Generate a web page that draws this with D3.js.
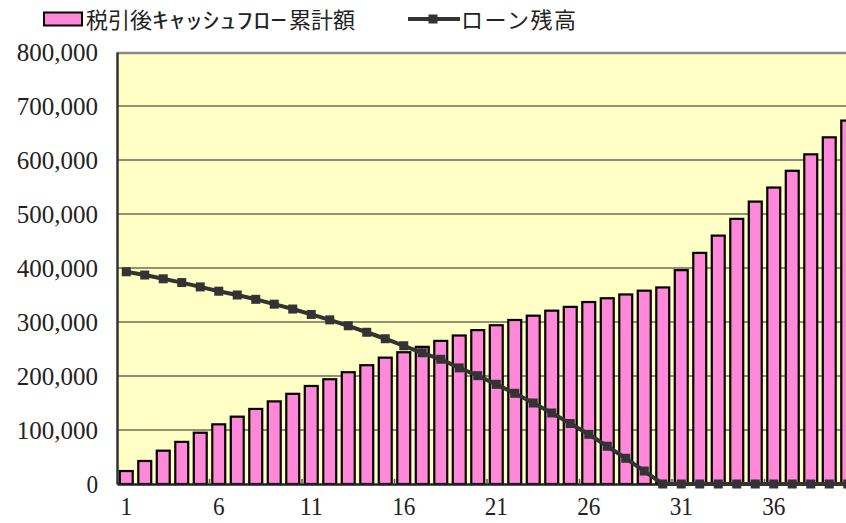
<!DOCTYPE html>
<html>
<head>
<meta charset="utf-8">
<script src="https://cdn.jsdelivr.net/npm/d3@7"></script>
<style>
  body { margin: 0; background: #fff; }
  svg { display: block; }
</style>
</head>
<body>
<script>
// categories (year 1..40)
var years = d3.range(1, 41);

// 税引後キャッシュフロー累計額 (bars)
var cashflow = [24000, 42600, 61700, 78000, 95000, 110500, 124700, 139000, 153000, 167000,
    181500, 194000, 207000, 220000, 234000, 244000, 254000, 265000, 275000, 285000,
    294000, 303700, 311700, 321000, 328000, 337000, 344000, 351000, 358000, 364000,
    396000, 428000, 460000, 491000, 523000, 549000, 580000, 610500, 642000, 673000];

// ローン残高 (line)
var loan = [393000, 387000, 380000, 373000, 365000, 357000, 350000, 342000, 333000, 324000,
    314000, 304000, 293000, 281000, 269000, 256000, 243000, 231000, 215000, 200600,
    184600, 168000, 150000, 131500, 112000, 92000, 70000, 47600, 24000, 0,
    0, 0, 0, 0, 0, 0, 0, 0, 0, 0];

var yTicks = [0, 100000, 200000, 300000, 400000, 500000, 600000, 700000, 800000];
var xLabels = [1, 6, 11, 16, 21, 26, 31, 36];

var W = 846, H = 523;
var plotL = 117, plotT = 52, plotB = 484, plotR = 117 + 40 * 18.5;

var svg = d3.select("body").append("svg")
    .attr("width", W)
    .attr("height", H);

var x = d3.scaleBand()
    .domain(years)
    .range([plotL, plotR])
    .paddingInner(0.3)
    .paddingOuter(0.15);

var y = d3.scaleLinear()
    .domain([0, 800000])
    .range([plotB, plotT]);

// plot background
svg.append("rect")
    .attr("x", plotL).attr("y", plotT)
    .attr("width", plotR - plotL).attr("height", plotB - plotT)
    .attr("fill", "#ffffc6");

// gridlines
svg.append("g")
    .selectAll("line")
    .data(yTicks.filter(function(d) { return d > 0 && d < 800000; }))
    .enter().append("line")
    .attr("x1", plotL).attr("x2", plotR)
    .attr("y1", function(d) { return y(d); })
    .attr("y2", function(d) { return y(d); })
    .attr("stroke", "#6b6b58")
    .attr("stroke-width", 1.3);

// top frame
svg.append("line")
    .attr("x1", plotL).attr("x2", plotR)
    .attr("y1", plotT + 1).attr("y2", plotT + 1)
    .attr("stroke", "#8a8a8a").attr("stroke-width", 2.5);

// bars
svg.append("g")
    .selectAll("rect")
    .data(cashflow)
    .enter().append("rect")
    .attr("x", function(d, i) { return x(years[i]); })
    .attr("width", x.bandwidth())
    .attr("y", function(d) { return y(d); })
    .attr("height", function(d) { return plotB - y(d); })
    .attr("fill", "#ff88d8")
    .attr("stroke", "#000")
    .attr("stroke-width", 2.2);

// mincho-like numbers: tall serif digits squeezed to half-width cells
var numFont = "'Liberation Serif', serif";
function styleNums(sel) {
    sel.attr("font-family", numFont)
        .attr("font-size", 26)
        .attr("font-weight", "normal")
        .attr("fill", "#222")
        .attr("lengthAdjust", "spacingAndGlyphs")
        .attr("textLength", function() { return this.textContent.length * 11.6; });
}

// y axis
var yAxis = svg.append("g")
    .attr("transform", "translate(" + plotL + ",0)")
    .call(d3.axisLeft(y).tickValues(yTicks).tickFormat(d3.format(",")).tickSize(0).tickPadding(19));
yAxis.select(".domain").attr("stroke", "#333").attr("stroke-width", 2.5);
yAxis.selectAll("text").call(styleNums);

// x axis
var xAxis = svg.append("g")
    .attr("transform", "translate(0," + plotB + ")")
    .call(d3.axisBottom(x).tickValues(xLabels).tickSize(0).tickPadding(13));
xAxis.select(".domain").attr("stroke", "#222").attr("stroke-width", 2.5);
xAxis.selectAll("text").call(styleNums);

// small ticks every 5 categories, at the band boundaries
svg.append("g")
    .selectAll("line")
    .data(xLabels.slice(1))
    .enter().append("line")
    .attr("x1", function(d) { return x(d) - x.step() * x.paddingInner() / 2; })
    .attr("x2", function(d) { return x(d) - x.step() * x.paddingInner() / 2; })
    .attr("y1", plotB).attr("y2", plotB - 5)
    .attr("stroke", "#555").attr("stroke-width", 1.5);

// loan line
var line = d3.line()
    .x(function(d, i) { return x(years[i]) + x.bandwidth() / 2; })
    .y(function(d) { return y(d); });

svg.append("path")
    .datum(loan)
    .attr("d", line)
    .attr("fill", "none")
    .attr("stroke", "#333")
    .attr("stroke-width", 4);

svg.append("g")
    .selectAll("rect")
    .data(loan)
    .enter().append("rect")
    .attr("x", function(d, i) { return x(years[i]) + x.bandwidth() / 2 - 4.5; })
    .attr("y", function(d) { return y(d) - 4.5; })
    .attr("width", 9).attr("height", 9)
    .attr("fill", "#333");

// legend
var lg = svg.append("g");
lg.append("rect")
    .attr("x", 44).attr("y", 12.5)
    .attr("width", 38).attr("height", 13)
    .attr("fill", "#ff88d8").attr("stroke", "#000").attr("stroke-width", 2);

var jp = "'Noto Sans CJK JP', sans-serif";
lg.append("text").attr("x", 86).attr("y", 27.5)
    .attr("font-family", jp).attr("font-size", 22).attr("fill", "#222")
    .text("税引後");
lg.append("text").attr("x", 152).attr("y", 27.5)
    .attr("font-family", jp).attr("font-size", 22).attr("fill", "#222")
    .attr("textLength", 135).attr("lengthAdjust", "spacingAndGlyphs")
    .text("ｷｬｯｼｭﾌﾛｰ");
lg.append("text").attr("x", 289).attr("y", 27.5)
    .attr("font-family", jp).attr("font-size", 22).attr("fill", "#222")
    .text("累計額");

lg.append("line")
    .attr("x1", 408).attr("x2", 460)
    .attr("y1", 19).attr("y2", 19)
    .attr("stroke", "#333").attr("stroke-width", 4);
lg.append("rect")
    .attr("x", 428.5).attr("y", 14.5)
    .attr("width", 9).attr("height", 9)
    .attr("fill", "#333");
lg.append("text").attr("x", 461).attr("y", 27.5)
    .attr("font-family", jp).attr("font-size", 22).attr("fill", "#222")
    .attr("letter-spacing", 1.5)
    .text("ローン残高");
</script>
</body>
</html>
